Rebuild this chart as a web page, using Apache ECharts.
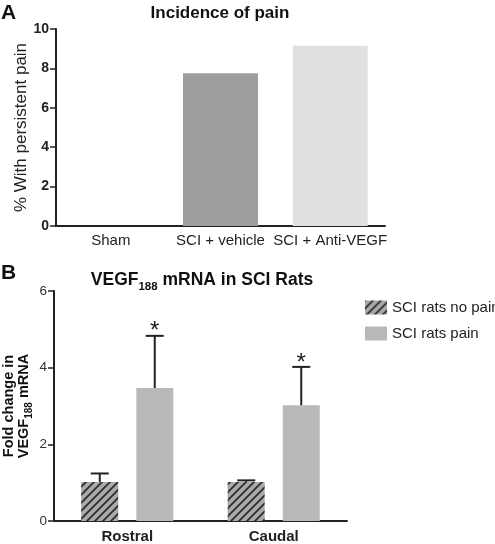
<!DOCTYPE html>
<html>
<head>
<meta charset="utf-8">
<script src="https://cdn.jsdelivr.net/npm/echarts@6/dist/echarts.min.js"></script>
<style>html,body{margin:0;padding:0;background:#fff;}#c{width:495px;height:544px;}</style>
</head>
<body>
<div id="c"></div>
<script>
// Panel A data
const catsA = ['Sham', 'SCI + vehicle', 'SCI + Anti-VEGF'];
const painPct = [0, 7.75, 9.15];
const ticksA = [0, 2, 4, 6, 8, 10];
// Panel B data
const catsB = ['Rostral', 'Caudal'];
const noPainMean = [1.02, 1.02];
const noPainUpper = [1.24, 1.06];
const painMean = [3.47, 3.02];
const painUpper = [4.83, 4.02];
const seriesNames = ['SCI rats no pain', 'SCI rats pain'];

const FONT = 'Liberation Sans, Arial, sans-serif';
const INK = '#222';

// hatch pattern
const pc = document.createElement('canvas');
pc.width = 8; pc.height = 8;
const g = pc.getContext('2d');
g.fillStyle = '#a9a9a9'; g.fillRect(0, 0, 8, 8);
g.strokeStyle = '#2e2e2e'; g.lineWidth = 1.8;
g.beginPath();
g.moveTo(-2, 10); g.lineTo(10, -2);
g.moveTo(-2, 2); g.lineTo(2, -2);
g.moveTo(6, 10); g.lineTo(10, 6);
g.stroke();
const hatch = { image: pc, repeat: 'repeat' };

const OFF = 27.5;
function errRender(offset, star) {
  return function (params, api) {
    const x0 = api.value(0);
    const base = api.coord([x0, api.value(1)]);
    const top = api.coord([x0, api.value(2)]);
    const x = base[0] + offset;
    const ch = [
      { type: 'line', shape: { x1: x, y1: base[1], x2: x, y2: top[1] }, style: { stroke: INK, lineWidth: 2 } },
      { type: 'line', shape: { x1: x - 9, y1: top[1], x2: x + 9, y2: top[1] }, style: { stroke: INK, lineWidth: 2 } }
    ];
    if (star) {
      ch.push({ type: 'text', x: x, y: top[1] + 8, style: { text: '*', fill: INK, font: '24px ' + FONT, align: 'center', verticalAlign: 'bottom' } });
    }
    return { type: 'group', children: ch };
  };
}

const chart = echarts.init(document.getElementById('c'), null, { renderer: 'canvas' });
chart.setOption({
  animation: false,
  backgroundColor: '#fff',
  title: [
    { text: 'Incidence of pain', left: 215, top: 0, textAlign: 'center',
      textStyle: { fontFamily: FONT, fontSize: 17, fontWeight: 'bold', color: '#111' } },
    { text: '{a|VEGF}{s|188}{a| mRNA in SCI Rats}', left: 197, top: 264, textAlign: 'center',
      textStyle: { rich: {
        a: { fontFamily: FONT, fontSize: 17.5, fontWeight: 'bold', color: '#111', lineHeight: 22, verticalAlign: 'middle' },
        s: { fontFamily: FONT, fontSize: 11.5, fontWeight: 'bold', color: '#111', lineHeight: 22, verticalAlign: 'bottom', padding: [0, 0, -2, 0] }
      } } }
  ],
  graphic: [
    { type: 'text', left: 1, top: 3, style: { text: 'A', font: 'bold 21px ' + FONT, fill: '#111' } },
    { type: 'text', left: 1, top: 263, style: { text: 'B', font: 'bold 21px ' + FONT, fill: '#111' } }
  ],
  legend: {
    data: seriesNames, orient: 'vertical', left: 360, top: 295, itemWidth: 22, itemHeight: 14, itemGap: 11,
    icon: 'rect', selectedMode: false,
    textStyle: { fontFamily: FONT, fontSize: 15, color: '#222' }
  },
  grid: [
    { left: 56, right: 110, top: 29, bottom: 318, containLabel: false, outerBoundsMode: 'none' },
    { left: 54, right: 148, top: 291, bottom: 23, containLabel: false, outerBoundsMode: 'none' }
  ],
  xAxis: [
    { type: 'category', gridIndex: 0, data: catsA,
      axisLine: { lineStyle: { color: INK, width: 2 } },
      axisTick: { alignWithLabel: true, length: 6, lineStyle: { color: INK, width: 1.5 } },
      axisLabel: { fontFamily: FONT, fontSize: 15, color: '#222', margin: 7, interval: 0 } },
    { type: 'category', gridIndex: 1, data: catsB,
      axisLine: { lineStyle: { color: INK, width: 2 } },
      axisTick: { alignWithLabel: true, length: 7, lineStyle: { color: INK, width: 1.5 } },
      axisLabel: { fontFamily: FONT, fontSize: 15, fontWeight: 'bold', color: '#222', margin: 8 } }
  ],
  yAxis: [
    { type: 'value', gridIndex: 0, min: 0, max: 10, interval: 2, splitLine: { show: false },
      axisLine: { show: true, lineStyle: { color: INK, width: 2 } },
      axisTick: { show: true, length: 6, lineStyle: { color: INK, width: 1.5 } },
      axisLabel: { fontFamily: FONT, fontSize: 14, fontWeight: 'bold', color: '#222', margin: 7 },
      name: '% With persistent pain', nameLocation: 'middle', nameRotate: 90, nameGap: 26, nameMoveOverlap: false,
      nameTextStyle: { fontFamily: FONT, fontSize: 17, color: '#222' } },
    { type: 'value', gridIndex: 1, min: 0, max: 6, interval: 2, splitLine: { show: false },
      axisLine: { show: true, lineStyle: { color: INK, width: 2 } },
      axisTick: { show: true, length: 6, lineStyle: { color: INK, width: 1.5 } },
      axisLabel: { fontFamily: FONT, fontSize: 13.5, color: '#333', margin: 7 },
      name: '{b|Fold change in}\n{b|VEGF}{s|188}{b| mRNA}', nameLocation: 'middle', nameRotate: 90, nameGap: 22, nameMoveOverlap: false,
      nameTextStyle: { rich: {
        b: { fontFamily: FONT, fontSize: 14.5, fontWeight: 'bold', color: '#111', lineHeight: 15.5 },
        s: { fontFamily: FONT, fontSize: 10, fontWeight: 'bold', color: '#111', lineHeight: 15.5, verticalAlign: 'bottom', padding: [0, 0, -2, 0] }
      } } }
  ],
  series: [
    { type: 'bar', xAxisIndex: 0, yAxisIndex: 0, barWidth: 75,
      data: painPct.map((v, i) => ({ value: v, itemStyle: { color: ['#9e9e9e', '#9e9e9e', '#e0e0e0'][i] } })) },
    { name: seriesNames[0], type: 'bar', xAxisIndex: 1, yAxisIndex: 1, barWidth: 37, barGap: '49%',
      itemStyle: { color: hatch }, data: noPainMean },
    { name: seriesNames[1], type: 'bar', xAxisIndex: 1, yAxisIndex: 1, barWidth: 37, barGap: '49%',
      itemStyle: { color: '#b9b9b9' }, data: painMean },
    { type: 'custom', xAxisIndex: 1, yAxisIndex: 1, z: 5, renderItem: errRender(-OFF, false),
      data: catsB.map((c, i) => [i, noPainMean[i], noPainUpper[i]]) },
    { type: 'custom', xAxisIndex: 1, yAxisIndex: 1, z: 5, renderItem: errRender(OFF, true),
      data: catsB.map((c, i) => [i, painMean[i], painUpper[i]]) }
  ]
});
</script>
</body>
</html>
